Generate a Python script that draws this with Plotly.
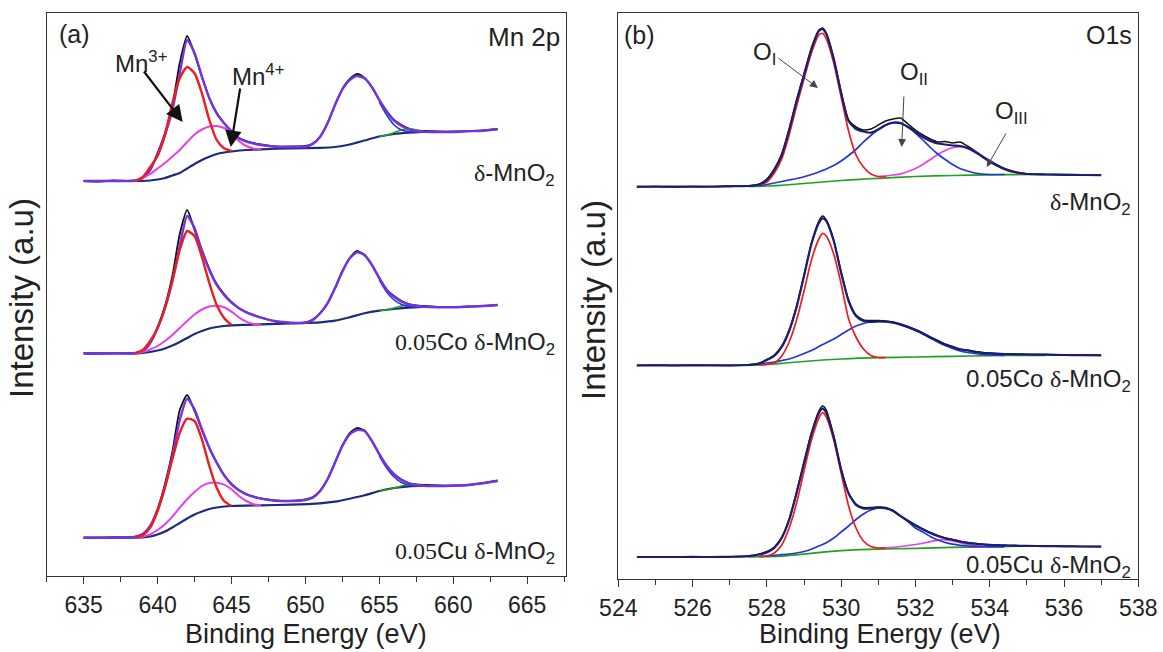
import plotly.graph_objects as go

W, H = 1163, 652

# ---------------- Panel (a): Mn 2p ----------------
E_MN = [635, 636, 637, 638, 638.5, 639, 639.5, 640, 640.5, 641, 641.5, 642, 642.5, 643, 643.5,
        644, 644.5, 645, 645.5, 646, 647, 648, 649, 650, 650.5, 651, 651.5, 652, 652.5, 653,
        653.5, 654, 654.5, 655, 655.5, 656, 656.5, 657, 657.5, 658, 659, 660, 661, 662, 663]

MN_ENV_TOP = [39.5, 39.5, 39.5, 39.5, 39.55, 39.8, 40.6, 42.2, 44.1, 46.6, 50.27, 53.6, 52.3, 49.93, 47.77,
              46.27, 45.27, 44.43, 43.77, 43.43, 43.1, 42.93, 42.9, 42.93, 43.2, 43.93, 45.27, 47.1, 48.67, 49.6,
              50.0, 49.77, 48.87, 47.6, 46.43, 45.53, 45.0, 44.67, 44.5, 44.43, 44.4, 44.4, 44.47, 44.53, 44.67]
MN_RAW_TOP = [39.5, 39.45, 39.55, 39.5, 39.55, 39.8, 40.6, 42.3, 44.3, 47.0, 51.3, 54.0, 52.2, 49.9, 47.8,
              46.3, 45.3, 44.5, 43.8, 43.5, 43.15, 42.95, 42.95, 43.0, 43.25, 43.95, 45.3, 47.1, 48.7, 49.7,
              50.2, 49.8, 48.9, 47.6, 46.5, 45.6, 45.1, 44.75, 44.55, 44.5, 44.45, 44.45, 44.5, 44.55, 44.7]
MN_ENV_MID = [22.27, 22.27, 22.27, 22.27, 22.3, 22.5, 23.3, 24.8, 26.8, 29.5, 33.0, 36.0, 34.8, 32.5, 30.6,
              29.1, 28.1, 27.33, 26.77, 26.37, 25.83, 25.47, 25.33, 25.33, 25.6, 26.27, 27.27, 28.77, 30.43, 31.77,
              32.37, 32.1, 31.1, 29.77, 28.6, 27.93, 27.43, 27.17, 27.0, 26.93, 26.87, 26.87, 26.93, 27.0, 27.1]
MN_RAW_MID = [22.27, 22.25, 22.3, 22.27, 22.3, 22.5, 23.3, 24.9, 27.0, 30.0, 34.2, 36.6, 34.6, 32.6, 30.7,
              29.2, 28.2, 27.4, 26.8, 26.4, 25.85, 25.45, 25.3, 25.35, 25.65, 26.3, 27.3, 28.8, 30.5, 31.8,
              32.5, 32.1, 31.1, 29.8, 28.65, 28.0, 27.5, 27.2, 27.05, 27.0, 26.9, 26.9, 26.95, 27.0, 27.1]
MN_ENV_BOT = [3.83, 3.83, 3.83, 3.87, 3.93, 4.2, 5.0, 6.6, 9.0, 12.0, 15.6, 17.73, 16.67, 14.67, 12.83,
              11.33, 10.07, 9.17, 8.57, 8.17, 7.73, 7.53, 7.5, 7.6, 7.83, 8.5, 9.67, 11.33, 13.0, 14.17,
              14.6, 14.5, 13.5, 12.17, 11.0, 10.17, 9.6, 9.27, 9.1, 9.03, 9.0, 9.03, 9.1, 9.27, 9.5]
MN_RAW_BOT = [3.83, 3.8, 3.85, 3.87, 3.93, 4.2, 5.0, 6.7, 9.2, 12.4, 16.6, 18.1, 16.5, 14.6, 12.8,
              11.35, 10.1, 9.2, 8.6, 8.2, 7.75, 7.55, 7.5, 7.65, 7.9, 8.55, 9.7, 11.35, 13.05, 14.3,
              14.8, 14.55, 13.5, 12.2, 11.05, 10.2, 9.65, 9.3, 9.15, 9.1, 9.05, 9.05, 9.1, 9.3, 9.55]

E_MN_BG = [635, 638.5, 639, 639.5, 640, 640.5, 641, 641.5, 642, 642.5, 643, 643.5, 644, 644.5, 645,
           646, 647, 649, 651, 652, 653, 654, 655, 656, 657, 658]
MN_BG_TOP = [39.5, 39.5, 39.5, 39.55, 39.65, 39.8, 40.05, 40.3, 40.75, 41.2, 41.6, 41.93, 42.2, 42.35, 42.45,
             42.6, 42.67, 42.77, 42.82, 42.9, 43.15, 43.55, 43.95, 44.2, 44.33, 44.4]
MN_BG_MID = [22.27, 22.27, 22.3, 22.4, 22.55, 22.75, 23.05, 23.4, 23.8, 24.2, 24.5, 24.75, 24.9, 25.0, 25.07,
             25.12, 25.17, 25.27, 25.37, 25.53, 25.87, 26.27, 26.53, 26.7, 26.83, 26.9]
MN_BG_BOT = [3.83, 3.83, 3.85, 3.95, 4.15, 4.45, 4.85, 5.3, 5.75, 6.15, 6.45, 6.7, 6.85, 6.95, 7.0,
             7.04, 7.07, 7.13, 7.27, 7.43, 7.73, 8.07, 8.5, 8.8, 8.97, 9.03]

E_MN3 = [638.5, 639, 639.5, 640, 640.5, 641, 641.5, 642, 642.5, 643, 643.5, 644, 644.5, 645]
MN3_TOP = [39.5, 39.9, 40.9, 42.0, 44.1, 47.27, 49.77, 50.9, 50.27, 48.27, 45.6, 43.6, 42.77, 42.5]
MN3_MID = [22.27, 22.6, 23.5, 24.8, 26.8, 29.5, 32.6, 34.5, 34.0, 31.9, 29.3, 27.1, 25.8, 25.1]
MN3_BOT = [3.83, 4.07, 4.83, 6.5, 8.83, 11.67, 14.33, 15.73, 15.5, 13.67, 11.0, 8.83, 7.5, 7.0]

E_MN4 = [638.5, 639, 639.5, 640, 640.5, 641, 641.5, 642, 642.5, 643, 643.5, 644, 644.5, 645,
         645.5, 646, 646.5, 647]
MN4_TOP = [39.5, 39.8, 40.2, 40.75, 41.3, 41.95, 42.6, 43.4, 44.15, 44.65, 44.95, 45.0, 44.8, 44.35,
           43.5, 43.0, 42.75, 42.67]
MN4_MID = [22.27, 22.4, 22.65, 23.0, 23.5, 24.1, 24.8, 25.5, 26.15, 26.65, 26.95, 27.03, 26.87, 26.43,
           25.87, 25.43, 25.2, 25.1]
MN4_BOT = [3.83, 3.93, 4.17, 4.6, 5.17, 5.93, 6.83, 7.67, 8.4, 9.0, 9.3, 9.33, 9.13, 8.67,
           8.0, 7.5, 7.17, 7.07]

E_MN_TAIL = [655, 655.5, 656, 656.5, 657, 657.5, 658]
MN_BLUE_TOP = [47.4, 46.1, 45.1, 44.6, 44.45, 44.42, 44.4]
MN_GREEN_TOP = [43.95, 44.1, 44.35, 44.6, 44.75, 44.6, 44.45]
MN_BLUE_MID = [29.6, 28.4, 27.6, 27.15, 26.95, 26.9, 26.9]
MN_GREEN_MID = [26.53, 26.62, 26.8, 27.0, 27.1, 27.0, 26.93]
MN_BLUE_BOT = [12.0, 10.8, 9.9, 9.35, 9.1, 9.05, 9.03]
MN_GREEN_BOT = [8.5, 8.62, 8.8, 9.0, 9.15, 9.1, 9.03]

# ---------------- Panel (b): O 1s ----------------
E_O = [524.5, 525, 525.5, 526, 526.5, 527, 527.5, 527.8, 528.0, 528.2, 528.4, 528.6, 528.8, 529.0,
       529.2, 529.4, 529.5, 529.6, 529.8, 530.0, 530.2, 530.4, 530.6, 530.8, 531.0, 531.2, 531.4,
       531.6, 531.8, 532.0, 532.2, 532.4, 532.6, 532.8, 533.0, 533.2, 533.4, 533.6, 533.8, 534.0,
       534.2, 534.4, 534.6, 534.8, 535.0, 535.5, 536.0, 536.5, 537.0]

O_ENV_TOP = [39.23, 39.23, 39.23, 39.23, 39.25, 39.27, 39.3, 39.45, 39.9, 40.9, 42.4, 44.9, 47.8, 50.4,
             53.0, 54.8, 54.97, 54.5, 52.0, 48.6, 45.8, 45.0, 44.75, 44.63, 44.95, 45.4, 45.65,
             45.6, 45.2, 44.7, 44.2, 43.8, 43.55, 43.45, 43.35, 43.3, 43.1, 42.75, 42.25, 41.75,
             41.35, 41.0, 40.75, 40.6, 40.5, 40.45, 40.42, 40.4, 40.38]
O_RAW_TOP = [39.2, 39.25, 39.2, 39.25, 39.22, 39.3, 39.3, 39.5, 40.0, 41.0, 42.5, 45.0, 47.9, 50.5,
             53.1, 54.9, 55.1, 54.6, 52.1, 48.7, 45.9, 45.2, 44.9, 45.0, 45.4, 45.8, 46.0,
             46.1, 45.5, 44.9, 44.4, 44.0, 43.7, 43.75, 43.6, 43.7, 43.3, 42.8, 42.3, 41.8,
             41.4, 41.05, 40.8, 40.62, 40.52, 40.45, 40.45, 40.4, 40.4]
O_ENV_MID = [21.37, 21.37, 21.37, 21.37, 21.37, 21.37, 21.4, 21.55, 21.9, 22.3, 23.2, 24.8, 27.2, 30.3,
             33.5, 35.6, 36.07, 35.8, 33.8, 30.6, 27.8, 26.3, 25.8, 25.72, 25.75, 25.75, 25.65,
             25.45, 25.2, 24.9, 24.55, 24.15, 23.8, 23.45, 23.2, 22.95, 22.85, 22.72, 22.62, 22.56,
             22.52, 22.5, 22.48, 22.46, 22.45, 22.43, 22.4, 22.38, 22.37]
O_RAW_MID = [21.35, 21.4, 21.35, 21.4, 21.37, 21.35, 21.42, 21.6, 21.95, 22.4, 23.3, 24.9, 27.3, 30.4,
             33.6, 35.8, 36.3, 35.9, 33.9, 30.7, 27.9, 26.4, 25.9, 25.85, 25.85, 25.8, 25.7,
             25.5, 25.25, 24.95, 24.6, 24.2, 23.85, 23.5, 23.25, 23.0, 22.9, 22.75, 22.65, 22.6,
             22.55, 22.52, 22.5, 22.48, 22.47, 22.45, 22.42, 22.4, 22.4]
O_ENV_BOT = [2.2, 2.2, 2.2, 2.2, 2.2, 2.22, 2.28, 2.45, 2.65, 3.1, 4.1, 5.9, 8.6, 11.6,
             14.5, 16.6, 17.03, 16.6, 14.2, 10.9, 8.55, 7.4, 7.05, 7.05, 7.13, 7.08, 6.8,
             6.28, 5.8, 5.35, 4.97, 4.6, 4.3, 4.08, 3.92, 3.75, 3.62, 3.53, 3.46, 3.41,
             3.38, 3.36, 3.34, 3.32, 3.31, 3.29, 3.27, 3.25, 3.23]
O_RAW_BOT = [2.18, 2.22, 2.2, 2.24, 2.2, 2.22, 2.3, 2.5, 2.75, 3.2, 4.2, 6.0, 8.7, 11.7,
             14.6, 16.8, 17.3, 16.9, 14.3, 11.0, 8.6, 7.5, 7.15, 7.15, 7.2, 7.15, 6.85,
             6.3, 5.85, 5.4, 5.0, 4.65, 4.35, 4.1, 3.95, 3.78, 3.65, 3.55, 3.48, 3.42,
             3.4, 3.37, 3.35, 3.33, 3.32, 3.3, 3.28, 3.26, 3.25]

E_OI = [527.8, 528.0, 528.2, 528.4, 528.6, 528.8, 529.0, 529.2, 529.4, 529.5, 529.6, 529.8,
        530.0, 530.2, 530.4, 530.6, 530.8, 531.0, 531.2]
OI_TOP = [39.4, 39.7, 40.6, 42.0, 44.4, 47.3, 50.0, 52.6, 54.4, 54.57, 54.0, 51.6,
          48.2, 44.8, 42.4, 41.2, 40.5, 40.25, 40.25]
OI_MID = [21.4, 21.47, 21.6, 22.3, 23.7, 25.9, 28.8, 31.9, 34.0, 34.57, 34.3, 32.5,
          29.5, 26.0, 24.2, 23.0, 22.35, 22.15, 22.13]
OI_BOT = [2.25, 2.3, 2.6, 3.4, 5.1, 7.6, 10.8, 13.9, 16.1, 16.63, 16.2, 13.9,
          10.6, 7.3, 5.1, 3.8, 3.25, 3.1, 3.1]

E_OII = [527.8, 528.0, 528.2, 528.4, 528.6, 528.8, 529.0, 529.2, 529.4, 529.5, 529.6, 529.8,
         530.0, 530.2, 530.4, 530.6, 530.8, 531.0, 531.2, 531.4, 531.6, 531.8, 532.0, 532.2,
         532.4, 532.6, 532.8, 533.0, 533.2, 533.4, 533.6, 533.8, 534.0, 534.2, 534.4]
OII_TOP = [39.3, 39.45, 39.6, 39.75, 39.9, 40.05, 40.23, 40.45, 40.7, 40.85, 41.0, 41.35,
           41.8, 42.35, 42.95, 43.7, 44.35, 44.95, 45.4, 45.6, 45.55, 45.2, 44.6, 43.9,
           43.15, 42.5, 41.95, 41.45, 41.05, 40.8, 40.6, 40.5, 40.45, 40.45, 40.45]
OII_MID = [21.45, 21.6, 21.7, 21.85, 22.0, 22.25, 22.55, 22.85, 23.25, 23.45, 23.63, 24.0,
           24.45, 24.9, 25.3, 25.55, 25.7, 25.75, 25.72, 25.6, 25.4, 25.15, 24.85, 24.5,
           24.1, 23.7, 23.35, 23.05, 22.8, 22.65, 22.55, 22.45, 22.4, 22.38, 22.37]
OII_BOT = [2.25, 2.3, 2.37, 2.43, 2.5, 2.6, 2.75, 2.98, 3.3, 3.45, 3.63, 4.1,
           4.7, 5.3, 5.95, 6.5, 6.9, 7.1, 7.05, 6.8, 6.3, 5.75, 5.1, 4.7,
           4.25, 3.9, 3.65, 3.48, 3.37, 3.3, 3.26, 3.23, 3.22, 3.22, 3.22]

E_OIII_TOP = [531.0, 531.2, 531.4, 531.6, 531.8, 532.0, 532.2, 532.4, 532.6, 532.8, 533.0, 533.2,
              533.4, 533.6, 533.8, 534.0, 534.2, 534.4, 534.6, 534.8, 535.0]
OIII_TOP = [40.23, 40.3, 40.4, 40.52, 40.75, 41.05, 41.45, 41.95, 42.45, 42.85, 43.12, 43.23,
            43.05, 42.65, 42.2, 41.7, 41.3, 40.95, 40.7, 40.55, 40.45]
E_OIII_BOT = [531.0, 531.5, 532.0, 532.3, 532.6, 532.8, 533.0, 533.2, 533.4, 533.6, 533.8, 534.0]
OIII_BOT = [3.1, 3.2, 3.45, 3.65, 3.88, 3.92, 3.82, 3.62, 3.45, 3.33, 3.25, 3.22]

E_OBG = [527.5, 528.0, 528.5, 529.0, 529.5, 530.0, 530.5, 531.0, 532.0, 533.0, 534.0, 535.0, 535.5]
OBG_TOP = [39.25, 39.3, 39.4, 39.55, 39.7, 39.85, 39.97, 40.07, 40.25, 40.35, 40.42, 40.45, 40.45]
OBG_MID = [21.37, 21.45, 21.6, 21.75, 21.9, 22.0, 22.08, 22.13, 22.2, 22.27, 22.33, 22.37, 22.37]
OBG_BOT = [2.2, 2.24, 2.32, 2.48, 2.68, 2.83, 2.93, 2.98, 3.07, 3.16, 3.23, 3.3, 3.3]

# tick values
MN_TICKS = [635, 640, 645, 650, 655, 660, 665]
O_TICKS = [524, 526, 528, 530, 532, 534, 536, 538]

# ---------------- colours ----------------
C_RAW = "#111111"
C_ENV_A = "#7433e0"
C_ENV_B = "#1b1d6e"
C_BG_A = "#1e2a7a"
C_RED = "#ee1c1c"
C_MAG = "#e540e5"
C_BLUE = "#2236d8"
C_GREEN = "#22a022"

fig = go.Figure()


def add(x, y, color, width, xa="x", ya="y"):
    fig.add_trace(go.Scatter(x=x, y=y, mode="lines", xaxis=xa, yaxis=ya,
                             line=dict(color=color, width=width, shape="spline", smoothing=0.6),
                             showlegend=False, hoverinfo="skip"))


# Panel (a)
for env, raw, bg, r3, r4, bl, gr in [
        (MN_ENV_TOP, MN_RAW_TOP, MN_BG_TOP, MN3_TOP, MN4_TOP, MN_BLUE_TOP, MN_GREEN_TOP),
        (MN_ENV_MID, MN_RAW_MID, MN_BG_MID, MN3_MID, MN4_MID, MN_BLUE_MID, MN_GREEN_MID),
        (MN_ENV_BOT, MN_RAW_BOT, MN_BG_BOT, MN3_BOT, MN4_BOT, MN_BLUE_BOT, MN_GREEN_BOT)]:
    add(E_MN, raw, C_RAW, 1.8)
    add(E_MN_BG, bg, C_BG_A, 2.2)
    add(E_MN_TAIL, gr, C_GREEN, 1.6)
    add(E_MN_TAIL, bl, C_BLUE, 1.6)
    add(E_MN, env, C_ENV_A, 2.4)
    add(E_MN4, r4, C_MAG, 2.0)
    add(E_MN3, r3, C_RED, 2.4)

# Panel (b)
for raw, env, bg, o1, o2, o3x, o3 in [
        (O_RAW_TOP, O_ENV_TOP, OBG_TOP, OI_TOP, OII_TOP, E_OIII_TOP, OIII_TOP),
        (O_RAW_MID, O_ENV_MID, OBG_MID, OI_MID, OII_MID, None, None),
        (O_RAW_BOT, O_ENV_BOT, OBG_BOT, OI_BOT, OII_BOT, E_OIII_BOT, OIII_BOT)]:
    add(E_OBG, bg, C_GREEN, 1.7, "x2", "y2")
    if o3 is not None:
        add(o3x, o3, C_MAG, 1.7, "x2", "y2")
    add(E_OII, o2, C_BLUE, 1.7, "x2", "y2")
    add(E_OI, o1, C_RED, 1.7, "x2", "y2")
    add(E_O, raw, C_RAW, 1.5, "x2", "y2")
    add(E_O, env, C_ENV_B, 2.2, "x2", "y2")

FONT = "Liberation Sans, Arial, sans-serif"

ax_common = dict(showline=True, mirror=True, linecolor="#333333", linewidth=1.3,
                 showgrid=False, zeroline=False)

fig.update_layout(
    width=W, height=H,
    margin=dict(l=0, r=0, t=0, b=0, autoexpand=False),
    paper_bgcolor="white", plot_bgcolor="white",
    font=dict(family=FONT, color="#222222", size=22),
    xaxis=dict(domain=[46.7 / W, 565.6 / W], range=[632.5, 667.6], anchor="y",
               tickmode="array", tickvals=MN_TICKS, ticks="outside", ticklen=7, tickwidth=1.3,
               tickcolor="#333333", tickfont=dict(size=23, family=FONT, color="#222222"),
               ticklabelstandoff=1,
               minor=dict(tickmode="linear", tick0=632.5, dtick=2.5, ticks="outside", ticklen=5,
                          tickwidth=1.3, tickcolor="#333333"),
               **ax_common),
    yaxis=dict(domain=[1 - 576 / H, 1 - 12.7 / H], range=[0, 56.33], anchor="x",
               showticklabels=False, ticks="", **ax_common),
    xaxis2=dict(domain=[618.3 / W, 1138.3 / W], range=[524, 538], anchor="y2",
                tickmode="array", tickvals=O_TICKS, ticks="outside", ticklen=7, tickwidth=1.3,
                tickcolor="#333333", tickfont=dict(size=23, family=FONT, color="#222222"),
                ticklabelstandoff=1,
                minor=dict(tickmode="linear", tick0=524, dtick=1, ticks="outside", ticklen=5,
                           tickwidth=1.3, tickcolor="#333333"),
                **ax_common),
    yaxis2=dict(domain=[1 - 579 / H, 1 - 13.3 / H], range=[0, 56.57], anchor="x2",
                showticklabels=False, ticks="", **ax_common),
)


def px(x):
    return x / W


def py(y):
    return 1 - y / H


def label(text, x, y, size=22, xanchor="center", angle=0):
    fig.add_annotation(text=text, x=px(x), y=py(y), xref="paper", yref="paper",
                       xanchor=xanchor, yanchor="middle", showarrow=False, textangle=angle,
                       font=dict(size=size, family=FONT, color="#222222"))


def arrow(x, y, ax, ay, xr, yr, width, color, size):
    fig.add_annotation(text="", x=x, y=y, ax=ax, ay=ay, xref=xr, yref=yr, axref=xr, ayref=yr,
                       showarrow=True, arrowhead=2, arrowsize=size, arrowwidth=width,
                       arrowcolor=color, font=dict(size=12))


# axis titles
label("Binding Energy (eV)", 306, 634, size=27)
label("Binding Energy (eV)", 880, 634, size=27)
label("Intensity (a.u)", 21, 298, size=33, angle=-90)
label("Intensity (a.u)", 593, 300, size=33, angle=-90)

# panel labels
label("(a)", 74, 34, size=25)
label("Mn 2p", 562, 37, size=26, xanchor="right")
label("(b)", 639, 35, size=25)
label("O1s", 1134, 35, size=25, xanchor="right")

sv = "<span style='font-family:Liberation Serif'>"
label(sv + "δ</span>-MnO<sub>2</sub>", 557, 174, size=24, xanchor="right")
label(sv + "0.05</span>Co " + sv + "δ</span>-MnO<sub>2</sub>", 557, 343, size=24, xanchor="right")
label(sv + "0.05</span>Cu " + sv + "δ</span>-MnO<sub>2</sub>", 557, 552, size=24, xanchor="right")

label(sv + "δ</span>-MnO<sub>2</sub>", 1133, 204, size=24, xanchor="right")
label("0.05Co " + sv + "δ</span>-MnO<sub>2</sub>", 1133, 380, size=24, xanchor="right")
label("0.05Cu " + sv + "δ</span>-MnO<sub>2</sub>", 1133, 566, size=24, xanchor="right")

# peak annotations
label("Mn<sup>3+</sup>", 141, 62, size=24)
label("Mn<sup>4+</sup>", 258, 75, size=24)
arrow(641.7, 45.4, 639.0, 50.6, "x", "y", 2.2, "#111111", 1.5)
arrow(644.95, 42.9, 645.6, 48.9, "x", "y", 2.2, "#111111", 1.5)

label("O<sub>I</sub>", 764, 54, size=24)
label("O<sub>II</sub>", 914, 73, size=24)
label("O<sub>III</sub>", 1011, 112, size=24)
arrow(529.375, 49.1, 528.27, 52.2, "x2", "y2", 1, "#444444", 1.6)
arrow(531.63, 43.2, 531.69, 48.4, "x2", "y2", 1, "#444444", 1.6)
arrow(533.92, 41.2, 534.46, 44.7, "x2", "y2", 1, "#444444", 1.6)

fig.write_html("out.html", config={"displayModeBar": False},
               post_script="document.body.style.margin='0';document.body.style.padding='0';"
                           "document.documentElement.style.overflow='hidden';"
                           "document.body.style.overflow='hidden';")
